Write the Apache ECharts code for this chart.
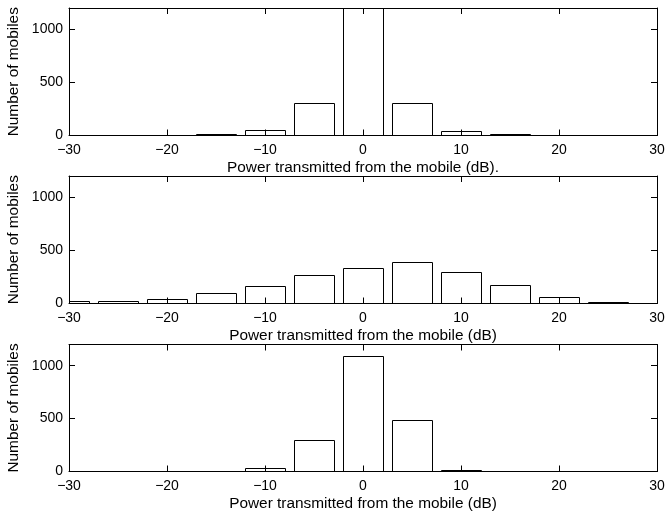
<!DOCTYPE html>
<html>
<head>
<meta charset="utf-8">
<title>Mobile transmit power histograms</title>
<script src="https://cdn.jsdelivr.net/npm/echarts@6/dist/echarts.min.js"></script>
<style>
  html, body { margin: 0; padding: 0; background: #fff; }
  #chart { width: 669px; height: 515px; }
</style>
</head>
<body>
<div id="chart"></div>
<script>
// Histogram bin centres (dB) shared by the three panels
const binCenters = [-30, -25, -20, -15, -10, -5, 0, 5, 10, 15, 20, 25, 30];

// Counts of mobiles per bin for each panel (top, middle, bottom)
const countsTop    = [0, 0, 8, 17, 48, 308, 1250, 308, 40, 15, 4, 0, 0];
const countsMiddle = [25, 22, 45, 100, 165, 270, 335, 393, 293, 178, 65, 10, 0];
const countsBottom = [0, 0, 0, 3, 32, 295, 1090, 485, 11, 2, 0, 0, 0];

// Axis labels
const xLabels = [
  'Power transmitted from the mobile (dB).',
  'Power transmitted from the mobile (dB)',
  'Power transmitted from the mobile (dB)'
];
const yLabel = 'Number of mobiles';

const panels = [countsTop, countsMiddle, countsBottom];

const FONT = '"Liberation Sans", Arial, Helvetica, sans-serif';
const tickFont = { color: '#000', fontFamily: FONT, fontSize: 14 };
const nameFont = { color: '#000', fontFamily: FONT, fontSize: 15.4 };
const minusFmt = v => String(v).replace('-', '\u2212');

// bars fill 80% of each 5 dB bin
const BAR_HALF = 2;

const gridBoxes = [
  { left: 69, right: 12, top: 8, height: 127.5 },
  { left: 69, right: 12, top: 176, height: 127.5 },
  { left: 69, right: 12, top: 344.5, height: 127 }
];

const frameLine = { show: true, onZero: false, lineStyle: { color: '#000', width: 1 } };
const innerTick = { show: true, inside: true, length: 6, lineStyle: { color: '#000', width: 1 } };

// Histogram bar drawn in data space; the series clip path trims bins that
// run past the axes box (edge bins and counts above the y limit).
function renderBar(params, api) {
  const x = api.value(0);
  const y = api.value(1);
  const p0 = api.coord([x - BAR_HALF, 0]);
  const p1 = api.coord([x + BAR_HALF, y]);
  const left = Math.round(p0[0]) + 0.5;
  const right = Math.round(p1[0]) + 0.5;
  const bottom = Math.round(p0[1]) + 0.5;
  const top = Math.round(p1[1]) + 0.5;
  return {
    type: 'rect',
    shape: { x: left, y: top, width: right - left, height: bottom - top },
    style: { fill: '#fff', stroke: '#000', lineWidth: 1 }
  };
}

const grid = [], xAxis = [], yAxis = [], series = [];

panels.forEach((counts, i) => {
  grid.push(Object.assign({ outerBoundsMode: 'none', containLabel: false }, gridBoxes[i]));

  // bottom x axis with labels
  xAxis.push({
    type: 'value', gridIndex: i, position: 'bottom', min: -30, max: 30, interval: 10,
    z: 5,
    axisLine: frameLine, axisTick: innerTick, splitLine: { show: false },
    axisLabel: Object.assign({ margin: 8, formatter: minusFmt }, tickFont),
    name: xLabels[i], nameLocation: 'middle', nameGap: 25, nameTextStyle: nameFont
  });
  // top frame edge with ticks
  xAxis.push({
    type: 'value', gridIndex: i, position: 'top', min: -30, max: 30, interval: 10,
    z: 5,
    axisLine: frameLine, axisTick: innerTick, splitLine: { show: false },
    axisLabel: { show: false }
  });
  // left y axis with labels
  yAxis.push({
    type: 'value', gridIndex: i, position: 'left', min: 0, max: 1200, interval: 500,
    z: 5,
    axisLine: frameLine, axisTick: innerTick, splitLine: { show: false },
    axisLabel: Object.assign({ margin: 6, showMaxLabel: false, formatter: v => String(v) }, tickFont),
    name: yLabel, nameLocation: 'middle', nameRotate: 90, nameGap: 39, nameTextStyle: nameFont
  });
  // right frame edge with ticks
  yAxis.push({
    type: 'value', gridIndex: i, position: 'right', min: 0, max: 1200, interval: 500,
    z: 5,
    axisLine: frameLine, axisTick: innerTick, splitLine: { show: false },
    axisLabel: { show: false }
  });

  series.push({
    type: 'custom',
    xAxisIndex: 2 * i,
    yAxisIndex: 2 * i,
    clip: true,
    z: 2,
    renderItem: renderBar,
    emphasis: { disabled: true },
    encode: { x: 0, y: 1 },
    data: binCenters.map((x, k) => [x, counts[k]])
  });
});

const chart = echarts.init(document.getElementById('chart'), null, { renderer: 'canvas' });
chart.setOption({
  animation: false,
  backgroundColor: '#fff',
  tooltip: { show: false },
  grid, xAxis, yAxis, series
});
</script>
</body>
</html>
